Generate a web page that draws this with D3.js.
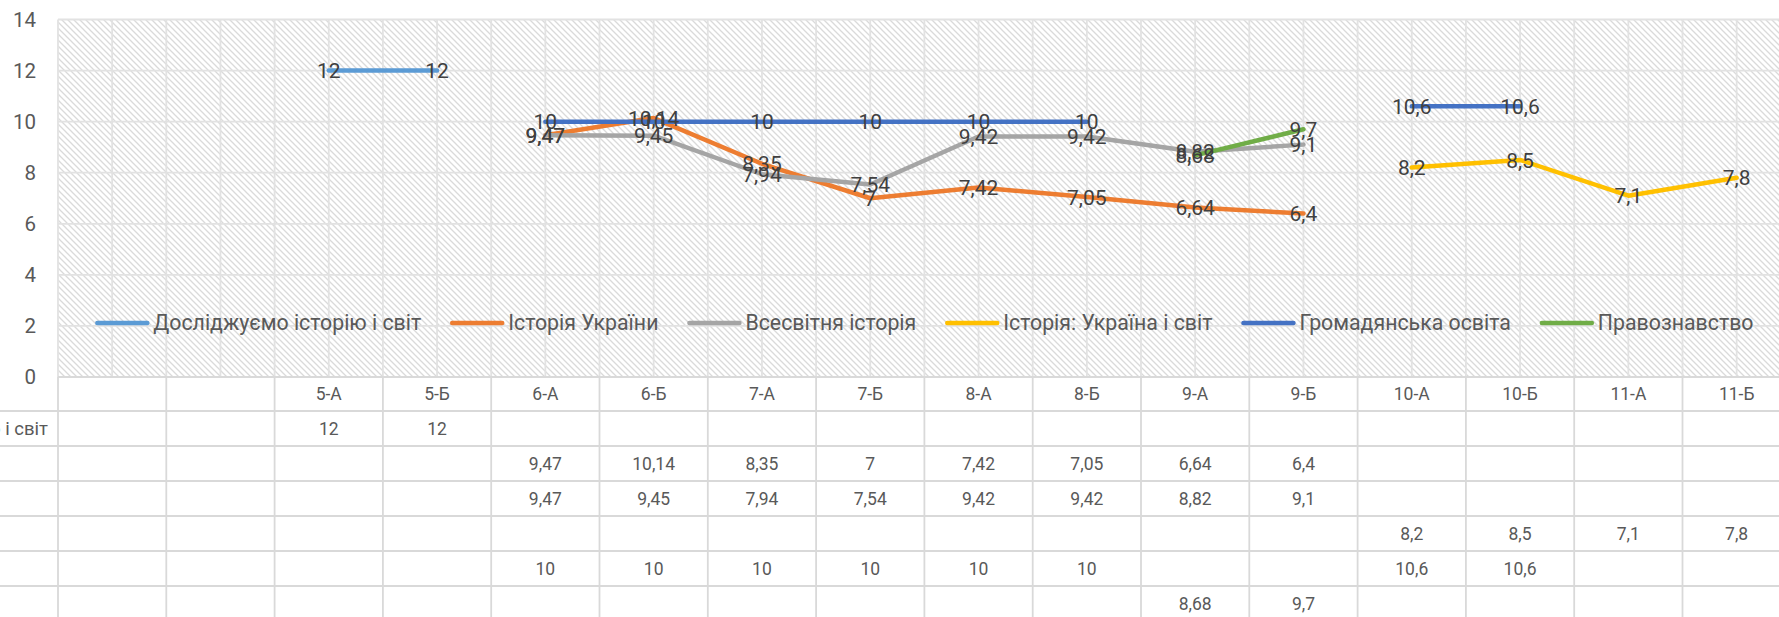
<!DOCTYPE html>
<html>
<head>
<meta charset="utf-8">
<script src="https://cdn.jsdelivr.net/npm/d3@7"></script>
<style>
  html, body { margin: 0; padding: 0; background: #fff; overflow: hidden; }
  svg { display: block; font-family: Roboto, "Noto Sans", sans-serif; }
</style>
</head>
<body>
<svg id="chart" width="1779" height="617"></svg>
<script>
// ---- data ----
const categories = ["", "", "5-А", "5-Б", "6-А", "6-Б", "7-А", "7-Б", "8-А", "8-Б", "9-А", "9-Б", "10-А", "10-Б", "11-А", "11-Б"];
const seriesNames = ["Досліджуємо історію і світ", "Історія України", "Всесвітня історія", "Історія: Україна і світ", "Громадянська освіта", "Правознавство"];
const doslidzhuiemo = [null, null, 12, 12, null, null, null, null, null, null, null, null, null, null, null, null];
const istoriiaUkrainy = [null, null, null, null, 9.47, 10.14, 8.35, 7, 7.42, 7.05, 6.64, 6.4, null, null, null, null];
const vsesvitnia = [null, null, null, null, 9.47, 9.45, 7.94, 7.54, 9.42, 9.42, 8.82, 9.1, null, null, null, null];
const ukrainaISvit = [null, null, null, null, null, null, null, null, null, null, null, null, 8.2, 8.5, 7.1, 7.8];
const hromadianska = [null, null, null, null, 10, 10, 10, 10, 10, 10, null, null, 10.6, 10.6, null, null];
const pravoznavstvo = [null, null, null, null, null, null, null, null, null, null, 8.68, 9.7, null, null, null, null];
const yTicks = [0, 2, 4, 6, 8, 10, 12, 14];

const seriesValues = [doslidzhuiemo, istoriiaUkrainy, vsesvitnia, ukrainaISvit, hromadianska, pravoznavstvo];
const colors = ["#5B9BD5", "#ED7D31", "#A5A5A5", "#FFC000", "#4472C4", "#70AD47"];

// ---- layout ----
const plotLeft = 58, colW = 108.3;
const plotRight = plotLeft + categories.length * colW;
const plotTop = 19.5, plotBottom = 377;
const headerH = 34, rowH = 35;
const fmt = v => String(v).replace(".", ",");

const svg = d3.select("#chart");
const x = d3.scaleBand().domain(d3.range(categories.length)).range([plotLeft, plotRight]).padding(0);
const y = d3.scaleLinear().domain([0, 14]).range([plotBottom, plotTop]);
const cx = i => x(i) + x.bandwidth() / 2;

// hatch pattern
const defs = svg.append("defs");
const P = 6;
const pat = defs.append("pattern").attr("id", "hatch").attr("patternUnits", "userSpaceOnUse")
  .attr("width", P).attr("height", P);
pat.append("rect").attr("width", P).attr("height", P).attr("fill", "#fff");
pat.append("path").attr("d", `M-1,${P - 1} L1,${P + 1} M0,0 L${P},${P} M${P - 1},-1 L${P + 1},1`)
  .attr("stroke", "#dadada").attr("stroke-width", 1.3);

svg.append("rect").attr("x", plotLeft).attr("y", plotTop)
  .attr("width", plotRight - plotLeft).attr("height", plotBottom - plotTop)
  .attr("fill", "url(#hatch)");

// gridlines
const grid = svg.append("g").attr("stroke", "#e2e2e2").attr("stroke-width", 1.8);
grid.selectAll("line.h").data(yTicks).join("line")
  .attr("x1", plotLeft).attr("x2", plotRight)
  .attr("y1", d => y(d)).attr("y2", d => y(d));
const vgrid = [];
for (let i = 0; i <= categories.length; i++) { vgrid.push(plotLeft + i * colW); if (i < categories.length) vgrid.push(cx(i)); }
grid.selectAll("line.v").data(vgrid).join("line")
  .attr("x1", d => d).attr("x2", d => d)
  .attr("y1", plotTop).attr("y2", plotBottom);

// y axis labels
svg.append("g").selectAll("text").data(yTicks).join("text")
  .attr("x", 36).attr("y", d => y(d)).attr("dy", "0.36em")
  .attr("text-anchor", "end").attr("font-size", 20.5).attr("fill", "#595959")
  .text(d => d);

// legend
const legend = svg.append("g").attr("font-size", 21.3).attr("fill", "#595959");
const keyLen = 54, keyGap = 4, entryGap = 29, legendY = 323;
const widths = seriesNames.map(n => {
  const t = legend.append("text").text(n);
  const w = t.node().getComputedTextLength(); t.remove(); return w;
});
const total = d3.sum(widths) + seriesNames.length * (keyLen + keyGap) + (seriesNames.length - 1) * entryGap;
let lx = (plotLeft + plotRight) / 2 - total / 2;
seriesNames.forEach((n, i) => {
  legend.append("line").attr("x1", lx + 2).attr("x2", lx + keyLen - 2)
    .attr("y1", legendY).attr("y2", legendY)
    .attr("stroke", colors[i]).attr("stroke-width", 4.5).attr("stroke-linecap", "round");
  legend.append("text").attr("x", lx + keyLen + keyGap).attr("y", legendY).attr("dy", "0.35em").text(n);
  lx += keyLen + keyGap + widths[i] + entryGap;
});

// lines
const lineGen = d3.line().defined(d => d != null).x((d, i) => cx(i)).y(d => y(d));
svg.append("g").selectAll("path").data(seriesValues).join("path")
  .attr("d", d => lineGen(d))
  .attr("fill", "none").attr("stroke", (d, i) => colors[i])
  .attr("stroke-width", 4.5).attr("stroke-linecap", "round").attr("stroke-linejoin", "round");

// data labels
const labels = svg.append("g").attr("font-size", 21).attr("fill", "#404040").attr("text-anchor", "middle");
seriesValues.forEach(vals => {
  vals.forEach((v, i) => {
    if (v == null) return;
    labels.append("text").attr("x", cx(i)).attr("y", y(v)).attr("dy", "0.36em").text(fmt(v));
  });
});

// data table
const table = svg.append("g");
const tableBottom = plotBottom + headerH + seriesNames.length * rowH;
const tl = table.append("g").attr("stroke", "#d9d9d9").attr("stroke-width", 1.8);
tl.selectAll("line.v").data(d3.range(categories.length + 1)).join("line")
  .attr("x1", i => plotLeft + i * colW).attr("x2", i => plotLeft + i * colW)
  .attr("y1", plotBottom).attr("y2", tableBottom);
tl.append("line").attr("x1", plotLeft).attr("x2", plotRight).attr("y1", plotBottom).attr("y2", plotBottom);
d3.range(seriesNames.length + 1).forEach(r => {
  const yy = plotBottom + headerH + r * rowH;
  tl.append("line").attr("x1", -400).attr("x2", plotRight).attr("y1", yy).attr("y2", yy);
});
const tt = table.append("g").attr("font-size", 17.5).attr("fill", "#595959").attr("text-anchor", "middle");
categories.forEach((c, i) => {
  tt.append("text").attr("x", cx(i)).attr("y", plotBottom + headerH / 2).attr("dy", "0.36em").text(c);
});
seriesValues.forEach((vals, r) => {
  const yy = plotBottom + headerH + r * rowH + rowH / 2;
  vals.forEach((v, i) => {
    if (v == null) return;
    tt.append("text").attr("x", cx(i)).attr("y", yy).attr("dy", "0.36em").text(fmt(v));
  });
});
// row labels: left aligned in a column that lies mostly left of the picture
const rl = table.append("g").attr("font-size", 18.5).attr("fill", "#595959");
const rw = seriesNames.map(n => { const t = rl.append("text").text(n); const w = t.node().getComputedTextLength(); t.remove(); return w; });
const labelX = 48 - d3.max(rw);
seriesNames.forEach((n, r) => {
  rl.append("text").attr("x", labelX).attr("y", plotBottom + headerH + r * rowH + rowH / 2)
    .attr("dy", "0.36em").text(n);
});
</script>
</body>
</html>
